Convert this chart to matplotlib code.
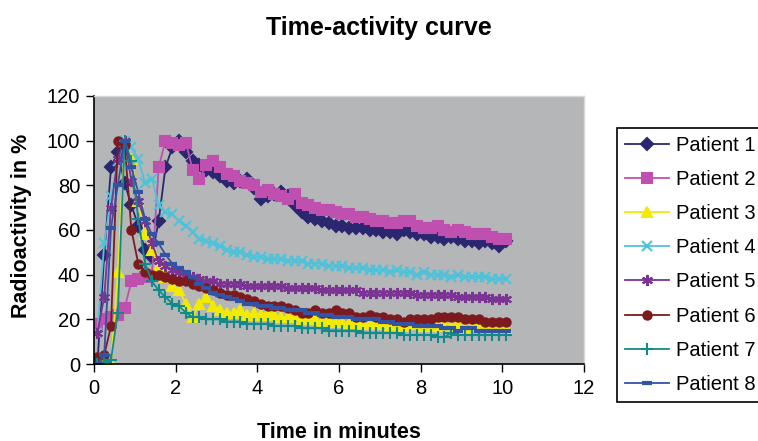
import matplotlib
matplotlib.use("Agg")
import matplotlib.pyplot as plt

plt.rcParams['font.family'] = ['Liberation Sans', 'DejaVu Sans']

# frame mid-times in seconds (10 s frames), shown in minutes
time_s = list(range(5, 606, 10))

patient1 = [0, 49, 88, 95, 81, 71, 62, 51, 48, 64, 88, 97, 100, 95, 91, 89, 87, 86, 84, 82,
            81, 82, 83, 79, 74, 75, 76, 77, 75, 71, 68, 66, 65, 64, 63, 62, 62, 61, 61, 61,
            60, 60, 59, 59, 58, 60, 59, 58, 58, 57, 57, 56, 57, 56, 55, 55, 54, 55, 54, 53, 55]
patient2 = [18, 20, 21, 22, 25, 37, 38, 39, 40, 88, 100, 99, 98, 99, 87, 83, 89, 91, 88, 85,
            84, 82, 81, 80, 77, 78, 76, 75, 74, 76, 72, 71, 70, 69, 69, 68, 67, 67, 66, 66,
            65, 64, 64, 63, 63, 64, 64, 62, 61, 61, 62, 60, 59, 60, 59, 58, 58, 58, 57, 56, 56]
patient3 = [0, 0, 0, 41, 100, 92, 73, 58, 51, 44, 39, 35, 33, 27, 21, 27, 30, 26, 24, 23,
            23, 24, 22, 23, 22, 23, 22, 21, 21, 22, 20, 21, 20, 19, 20, 19, 19, 18, 19, 18,
            18, 18, 19, 17, 18, 17, 18, 18, 17, 18, 17, 18, 17, 18, 16, 17, 17, 16, 17, 16, 16]
patient4 = [14, 54, 75, 91, 100, 97, 92, 81, 83, 71, 68, 67, 64, 62, 59, 56, 55, 54, 53, 51,
            50, 50, 49, 48, 48, 47, 47, 47, 46, 46, 46, 45, 45, 45, 44, 44, 44, 43, 43, 43,
            42, 42, 42, 41, 42, 41, 41, 40, 41, 40, 40, 40, 39, 40, 39, 39, 39, 39, 38, 38, 38]
patient5 = [14, 30, 70, 92, 100, 82, 73, 64, 54, 46, 44, 42, 41, 39, 39, 38, 37, 37, 36, 36,
            36, 36, 35, 35, 35, 35, 35, 35, 34, 34, 34, 34, 34, 33, 33, 33, 33, 33, 33, 32,
            32, 32, 32, 32, 32, 32, 32, 31, 31, 31, 31, 31, 31, 30, 30, 30, 30, 30, 29, 29, 29]
patient6 = [3, 4, 17, 100, 98, 60, 45, 41, 40, 40, 39, 38, 37, 37, 36, 35, 34, 33, 32, 31,
            31, 30, 29, 28, 27, 26, 26, 26, 25, 24, 23, 23, 24, 23, 23, 24, 23, 23, 21, 21,
            22, 21, 21, 20, 20, 19, 20, 20, 20, 20, 21, 21, 21, 21, 20, 20, 20, 19, 19, 19, 19]
patient7 = [0, 1, 2, 23, 100, 91, 65, 45, 37, 33, 30, 27, 26, 23, 21, 21, 20, 20, 20, 19,
            19, 19, 18, 18, 18, 18, 17, 17, 17, 17, 16, 16, 16, 16, 15, 15, 15, 15, 15, 14,
            14, 14, 14, 14, 14, 13, 13, 13, 13, 13, 12, 12, 14, 13, 13, 13, 13, 13, 13, 13, 13]
patient8 = [0, 4, 61, 80, 100, 88, 77, 65, 58, 54, 49, 45, 43, 41, 39, 36, 34, 32, 31, 30,
            29, 28, 27, 27, 26, 26, 25, 25, 24, 24, 24, 23, 23, 22, 22, 21, 21, 21, 20, 20,
            20, 20, 19, 19, 18, 18, 18, 17, 17, 17, 17, 16, 16, 15, 16, 16, 15, 15, 15, 15, 15]

labels = ["Patient 1", "Patient 2", "Patient 3", "Patient 4",
          "Patient 5", "Patient 6", "Patient 7", "Patient 8"]
series = [patient1, patient2, patient3, patient4, patient5, patient6, patient7, patient8]
colors = ["#2A2770", "#C050B0", "#F2EA00", "#4DC3DA", "#7B3394", "#7D1A1D", "#128A8C", "#3353A3"]
markers = ["D", "s", "^", "x", (6, 2, 0), "o", "+", "_"]
msizes = [6, 7, 7, 7, 8, 6, 8, 7]

xticks = [0, 2, 4, 6, 8, 10, 12]
yticks = [0, 20, 40, 60, 80, 100, 120]

t_min = [s / 60 for s in time_s]

fig = plt.figure(figsize=(7.58, 4.41), dpi=100)
ax = fig.add_axes([94 / 758, 1 - 364 / 441, (584 - 94) / 758, (364 - 96) / 441])
ax.set_facecolor("#B4B6B8")

handles = []
for vals, lab, c, m, ms in zip(series, labels, colors, markers, msizes):
    mew = 1.5
    if m == "_":
        mew = 3
    h, = ax.plot(t_min, vals, color=c, marker=m, markersize=ms, markeredgewidth=mew,
                 markerfacecolor=c, markeredgecolor=c, linewidth=1.3, label=lab)
    handles.append(h)

ax.set_xlim(0, 12)
ax.set_ylim(0, 120)
ax.set_xticks(xticks)
ax.set_yticks(yticks)
ax.tick_params(axis='both', labelsize=14.5, direction='out', length=6, width=1, colors='black')
ax.tick_params(axis='x', pad=5)
ax.tick_params(axis='y', pad=4)
for s in ['left', 'bottom']:
    ax.spines[s].set_color('black')
    ax.spines[s].set_linewidth(1.2)
for s in ['top', 'right']:
    ax.spines[s].set_color('#D8D8D8')
    ax.spines[s].set_linewidth(1.0)

fig.text(0.4993, 1 - 28 / 441, "Time-activity curve", ha='center', va='center',
         fontsize=18, fontweight='bold')
fig.text(339 / 758, 1 - 432 / 441, "Time in minutes", ha='center', va='center',
         fontsize=15.5, fontweight='bold')
fig.text(22 / 758, 1 - 226 / 441, "Radioactivity in %", ha='center', va='center',
         rotation=90, fontsize=15.5, fontweight='bold')

leg = fig.legend(handles=handles, labels=labels, loc='upper left',
                 bbox_to_anchor=(617 / 758, 1 - 128 / 441), fontsize=14.5,
                 frameon=True, fancybox=False, edgecolor='black', framealpha=1,
                 handlelength=2.2, handletextpad=0.35, labelspacing=0.75,
                 borderpad=0.4, borderaxespad=0)
leg.get_frame().set_linewidth(1.2)

fig.savefig("out.png", dpi=100)
